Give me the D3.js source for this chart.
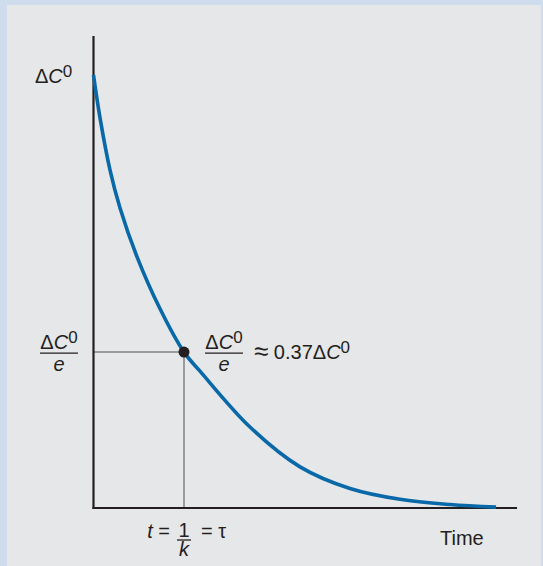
<!DOCTYPE html>
<html>
<head>
<meta charset="utf-8">
<script src="https://cdn.jsdelivr.net/npm/d3@7"></script>
<style>
  html, body { margin: 0; padding: 0; background: #cedced; }
  svg { display: block; }
  text { font-family: "Liberation Sans", Arial, Helvetica, sans-serif; fill: #231f20; }
</style>
</head>
<body>
<div id="chart"></div>
<script>
// time in units of tau, concentration as fraction of ΔC0
const timeValues = [0, 0.072, 0.182, 0.293, 0.481, 0.735, 1.0, 1.177, 1.729, 2.282, 2.834, 3.387, 3.94, 4.448];
const concValues = [1.0, 0.901, 0.781, 0.693, 0.580, 0.460, 0.36, 0.316, 0.187, 0.095, 0.045, 0.020, 0.008, 0.002];
const markTime = [1];
const markConc = [0.36];
const axisMax = [4.68, 1.09]; // end of x axis, top of y axis

const width = 543, height = 566;
const panel = { left: 7, top: 5, right: 541, bottom: 566 };

const svg = d3.select("#chart").append("svg")
    .attr("width", width)
    .attr("height", height);

svg.append("rect")
    .attr("x", panel.left).attr("y", panel.top)
    .attr("width", panel.right - panel.left)
    .attr("height", panel.bottom - panel.top)
    .attr("fill", "#e6e7e8");

const x = d3.scaleLinear().domain([0, 1]).range([93.5, 184]);
const y = d3.scaleLinear().domain([0, 1]).range([508, 75]);

const points = timeValues.map((t, i) => ({ t: t, c: concValues[i] }));
const mark = { t: markTime[0], c: markConc[0] };

// guide lines to the 1/e point
svg.append("line")
    .attr("x1", x(0)).attr("x2", x(mark.t))
    .attr("y1", y(mark.c)).attr("y2", y(mark.c))
    .attr("stroke", "#9a9b9d").attr("stroke-width", 2);
svg.append("line")
    .attr("x1", x(mark.t)).attr("x2", x(mark.t))
    .attr("y1", y(mark.c)).attr("y2", y(0))
    .attr("stroke", "#9a9b9d").attr("stroke-width", 2);

// axes
svg.append("line")
    .attr("x1", x(0)).attr("x2", x(0))
    .attr("y1", y(axisMax[1])).attr("y2", y(0) + 1)
    .attr("stroke", "#231f20").attr("stroke-width", 2.2);
svg.append("line")
    .attr("x1", x(0) - 1).attr("x2", x(axisMax[0]))
    .attr("y1", y(0)).attr("y2", y(0))
    .attr("stroke", "#231f20").attr("stroke-width", 2.2);

// decay curve
const line = d3.line()
    .x(d => x(d.t))
    .y(d => y(d.c))
    .curve(d3.curveCatmullRom.alpha(0.5));

svg.append("path")
    .datum(points)
    .attr("d", line)
    .attr("fill", "none")
    .attr("stroke", "#0868a8")
    .attr("stroke-width", 3.6);

svg.append("circle")
    .attr("cx", x(mark.t)).attr("cy", y(mark.c))
    .attr("r", 5.5)
    .attr("fill", "#231f20");

const fs = 20;

// writes ΔC⁰ into a text element
function deltaC(t) {
    t.append("tspan").text("Δ");
    t.append("tspan").attr("font-style", "italic").text("C");
    t.append("tspan").attr("dy", -6).attr("font-size", fs * 0.85).text("0");
}

// ΔC⁰ over e fraction
function fraction(cx, ly) {
    const num = svg.append("text")
        .attr("x", cx).attr("y", ly - 4)
        .attr("text-anchor", "middle")
        .attr("font-size", fs);
    deltaC(num);
    svg.append("line")
        .attr("x1", cx - 19).attr("x2", cx + 19)
        .attr("y1", ly).attr("y2", ly)
        .attr("stroke", "#231f20").attr("stroke-width", 1.3);
    svg.append("text")
        .attr("x", cx).attr("y", ly + 18)
        .attr("text-anchor", "middle")
        .attr("font-size", fs)
        .attr("font-style", "italic")
        .text("e");
}

// top label
const topLabel = svg.append("text")
    .attr("x", 35).attr("y", y(1) + 8)
    .attr("font-size", fs);
deltaC(topLabel);

const fracY = y(mark.c) + 1;
fraction(59, fracY);
fraction(224, fracY);

const approx = svg.append("text")
    .attr("x", 254).attr("y", fracY + 6)
    .attr("font-size", fs);
approx.append("tspan").attr("font-size", fs * 1.3).attr("dy", 1).text("≈");
approx.append("tspan").attr("dy", -1).text(" 0.37");
deltaC(approx);

// time constant label
const bx = x(mark.t), by = 540;
svg.append("text")
    .attr("x", bx - 14).attr("y", by - 2)
    .attr("text-anchor", "end")
    .attr("font-size", fs)
    .html('<tspan font-style="italic">t</tspan> =');
svg.append("text")
    .attr("x", bx).attr("y", by - 3)
    .attr("text-anchor", "middle")
    .attr("font-size", fs)
    .text("1");
svg.append("line")
    .attr("x1", bx - 7).attr("x2", bx + 7)
    .attr("y1", by).attr("y2", by)
    .attr("stroke", "#231f20").attr("stroke-width", 1.3);
svg.append("text")
    .attr("x", bx).attr("y", by + 16)
    .attr("text-anchor", "middle")
    .attr("font-size", fs)
    .attr("font-style", "italic")
    .text("k");
svg.append("text")
    .attr("x", bx + 17).attr("y", by - 2)
    .attr("font-size", fs)
    .text("= τ");

svg.append("text")
    .attr("x", 440).attr("y", 545)
    .attr("font-size", fs)
    .text("Time");
</script>
</body>
</html>
